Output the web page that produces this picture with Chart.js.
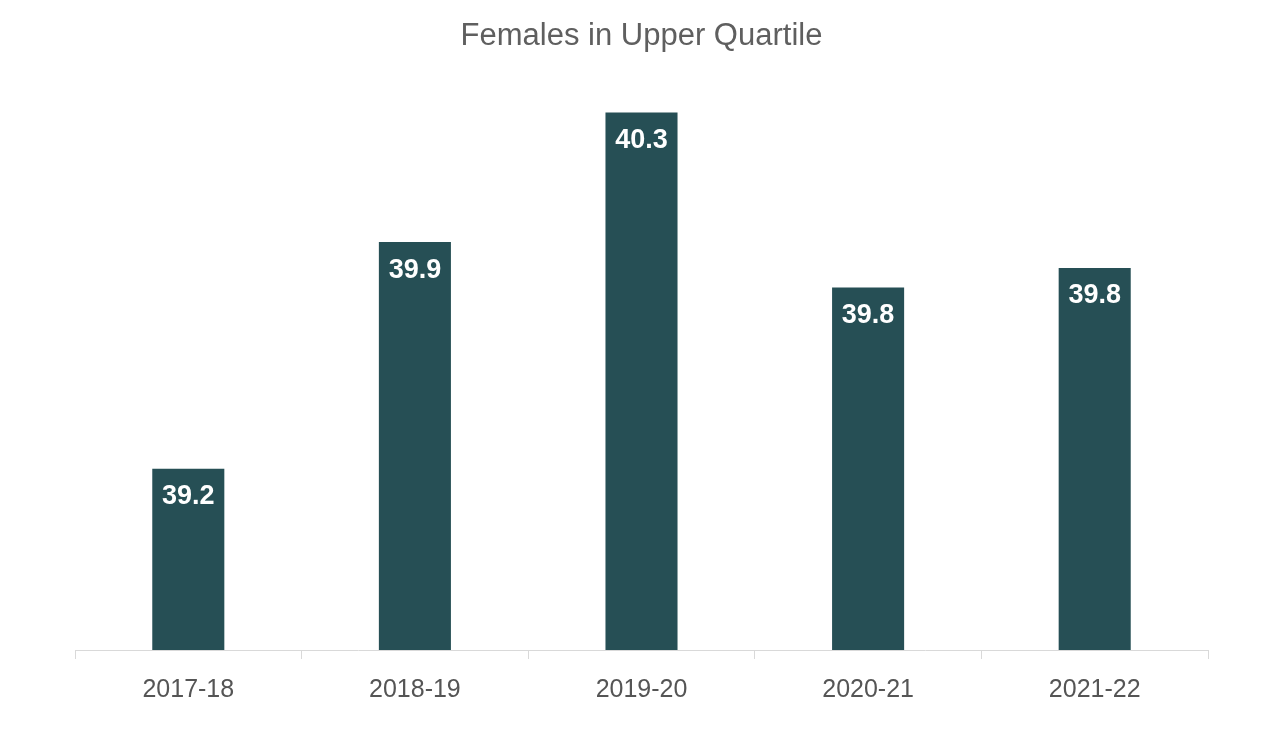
<!DOCTYPE html>
<html>
<head>
<meta charset="utf-8">
<script src="https://cdn.jsdelivr.net/npm/chart.js@4/dist/chart.umd.min.js"></script>
<style>
  html, body { margin: 0; padding: 0; background: #fff; }
  #wrap { width: 1265px; height: 740px; }
</style>
</head>
<body>
<div id="wrap"><canvas id="chartQuartile"></canvas></div>
<script>
const years = ["2017-18", "2018-19", "2019-20", "2020-21", "2021-22"];
const femalePct = [39.2, 39.9, 40.3, 39.76, 39.82];

// white value labels inside the top of each bar
const barLabels = {
    id: "barLabels",
    afterDatasetsDraw(chart) {
        const ctx = chart.ctx;
        const meta = chart.getDatasetMeta(0);
        ctx.save();
        ctx.fillStyle = "#ffffff";
        ctx.font = "bold 27px 'Liberation Sans', Arial, sans-serif";
        ctx.textAlign = "center";
        ctx.textBaseline = "middle";
        meta.data.forEach(function (bar, i) {
            ctx.fillText(femalePct[i].toFixed(1), bar.x, bar.y + 28);
        });
        ctx.restore();
    },
};

new Chart(document.getElementById("chartQuartile"), {
    type: "bar",
    data: {
        labels: years,
        datasets: [
            {
                label: "Females in Upper Quartile",
                data: femalePct,
                backgroundColor: "#264f55",
                barPercentage: 1,
                categoryPercentage: 0.318,
            },
        ],
    },
    options: {
        responsive: true,
        maintainAspectRatio: false,
        animation: false,
        layout: {
            padding: { left: 75, right: 57, top: 0, bottom: 19 },
        },
        plugins: {
            legend: { display: false },
            tooltip: { enabled: false },
            title: {
                display: true,
                text: "Females in Upper Quartile",
                color: "#5f5f5f",
                font: { family: "'Liberation Sans', Arial, sans-serif", size: 31, weight: "normal" },
                padding: { top: 18, bottom: 25 },
            },
        },
        scales: {
            x: {
                grid: {
                    display: true,
                    drawOnChartArea: false,
                    drawTicks: true,
                    tickLength: 9,
                    color: "#d9d9d9",
                },
                border: { display: true, color: "#d9d9d9" },
                ticks: {
                    color: "#555555",
                    padding: 16,
                    font: { family: "'Liberation Sans', Arial, sans-serif", size: 25 },
                },
            },
            y: {
                display: false,
                min: 38.64,
                max: 40.4,
            },
        },
    },
    plugins: [barLabels],
});
</script>
</body>
</html>
